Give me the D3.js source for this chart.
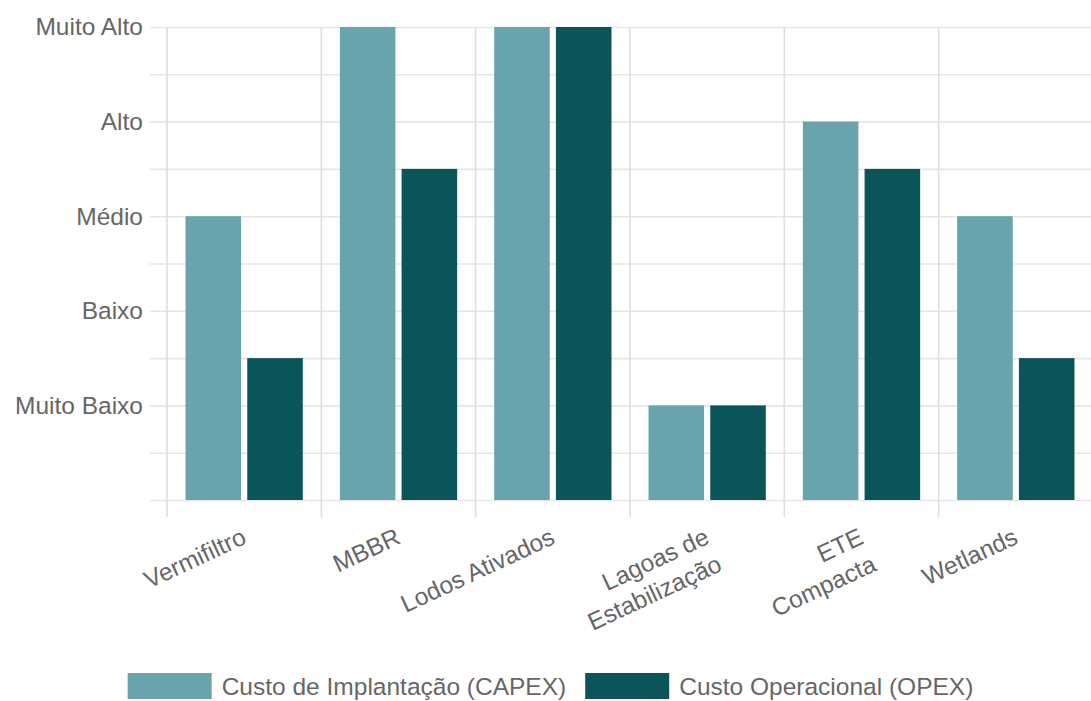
<!DOCTYPE html>
<html><head><meta charset="utf-8">
<script src="https://cdn.jsdelivr.net/npm/d3@7/dist/d3.min.js"></script>
<style>
html,body{margin:0;padding:0;background:#fff;}
svg{display:block;}
text{font-family:"Liberation Sans",Arial,Helvetica,sans-serif;fill:#666;}
</style></head>
<body>
<svg id="chart" width="1091" height="701"></svg>
<script>
const categories = [["Vermifiltro"], ["MBBR"], ["Lodos Ativados"], ["Lagoas de", "Estabilização"], ["ETE", "Compacta"], ["Wetlands"]];
const seriesNames = ["Custo de Implantação (CAPEX)", "Custo Operacional (OPEX)"];
const capex = [3, 5, 5, 1, 4, 3];
const opex = [1.5, 3.5, 5, 1, 3.5, 1.5];
const yTickValues = [1, 2, 3, 4, 5];
const yTickLabels = ["Muito Baixo", "Baixo", "Médio", "Alto", "Muito Alto"];
const gridValues = [0, 0.5, 1, 1.5, 2, 2.5, 3, 3.5, 4, 4.5, 5];
const colors = ["#67a4ad", "#0a5559"];

(function () {
const svg = d3.select("#chart");
const W = 1091, H = 701;
const pLeft = 167, pRight = 1093, pTop = 27, pBottom = 500;
const FS = 24.5;

const idx = categories.map((d, i) => i);
const x = d3.scaleBand().domain(idx).range([pLeft, pRight]).paddingInner(0).paddingOuter(0);
const bw = x.bandwidth();
const x1 = d3.scaleBand().domain([0, 1]).range([0.1 * bw, 0.9 * bw]).paddingInner(0.1).paddingOuter(0.05);
const y = d3.scaleLinear().domain([0, 5]).range([pBottom, pTop]);

// horizontal grid
const gy = svg.append("g").attr("transform", `translate(${pLeft - 17},0)`)
  .call(d3.axisLeft(y).tickValues(gridValues).tickSize(-(W - (pLeft - 17))).tickFormat(""));
gy.select(".domain").remove();
gy.selectAll(".tick line").attr("stroke", "#e6e6e6").attr("stroke-width", 1.6);

// vertical grid at category boundaries
svg.append("g").selectAll("line").data(idx).join("line")
  .attr("x1", d => x(d)).attr("x2", d => x(d))
  .attr("y1", pTop).attr("y2", pBottom + 17)
  .attr("stroke", "#dedede").attr("stroke-width", 1.6);

// y labels
const yl = svg.append("g").attr("transform", `translate(${pLeft},0)`)
  .call(d3.axisLeft(y).tickValues(yTickValues).tickSize(0).tickPadding(24)
    .tickFormat((d, i) => yTickLabels[i]));
yl.select(".domain").remove();
yl.selectAll("text").style("font-size", FS + "px").attr("fill", "#666")
  .style("font-family", '"Liberation Sans", Arial, sans-serif');

// bars
const series = [capex, opex];
const g = svg.append("g");
series.forEach((vals, s) => {
  g.selectAll(".b" + s).data(vals).join("rect")
    .attr("class", "b" + s)
    .attr("x", (d, i) => x(i) + x1(s))
    .attr("width", x1.bandwidth())
    .attr("y", d => y(d))
    .attr("height", d => y(0) - y(d))
    .attr("fill", colors[s]);
});

// x labels rotated
const ang = -25;
const xl = svg.append("g");
categories.forEach((lines, i) => {
  const cx = x(i) + bw / 2;
  const t = xl.append("text")
    .attr("transform", `translate(${cx},${535}) rotate(${ang})`)
    .attr("text-anchor", "end")
    .style("font-size", FS + "px");
  lines.forEach((ln, k) => {
    t.append("tspan").attr("x", 0).attr("y", k * 30).attr("dy", "0.35em").text(ln);
  });
});

// legend
const boxW = 84, boxH = 26, gapT = 10, gapItem = 19;
const lg = svg.append("g");
const items = seriesNames.map((n, i) => {
  const tt = lg.append("text").style("font-size", FS + "px").attr("dy", "0.35em").text(n);
  return {t: tt, w: tt.node().getComputedTextLength(), i};
});
const total = items.reduce((a, it) => a + boxW + gapT + it.w, 0) + gapItem * (items.length - 1);
let cur = 550.5 - total / 2;
const ly = 686;
items.forEach(it => {
  lg.append("rect").attr("x", cur).attr("y", ly - boxH / 2).attr("width", boxW).attr("height", boxH)
    .attr("fill", colors[it.i]);
  it.t.attr("x", cur + boxW + gapT).attr("y", ly);
  cur += boxW + gapT + it.w + gapItem;
});
})();
</script>
</body></html>
